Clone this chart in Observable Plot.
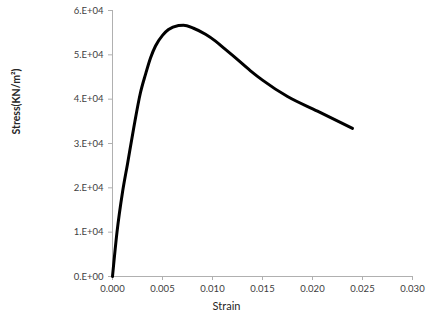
<!DOCTYPE html>
<html>
<head>
<meta charset="utf-8">
<script src="https://cdn.jsdelivr.net/npm/d3@7"></script>
<script src="https://cdn.jsdelivr.net/npm/@observablehq/plot@0.6"></script>
<style>
  html, body { margin: 0; padding: 0; background: #fff; }
  svg { display: block; }
</style>
</head>
<body>
<div id="chart"></div>
<script>
const strain = [0, 0.00045, 0.0010, 0.0015, 0.0021, 0.0028, 0.0033, 0.0038, 0.0043, 0.0050, 0.0056, 0.0066, 0.0071, 0.0081, 0.0093, 0.0103, 0.0112, 0.0121, 0.0138, 0.0150, 0.0175, 0.0205, 0.0240];
const stress = [0, 10000, 19000, 25400, 33200, 41500, 45600, 49300, 52000, 54400, 55700, 56600, 56700, 56000, 54650, 53100, 51400, 49700, 46400, 44300, 40600, 37300, 33400];

const xTicks = [0, 0.005, 0.010, 0.015, 0.020, 0.025, 0.030];
const xTickLabels = ["0.000", "0.005", "0.010", "0.015", "0.020", "0.025", "0.030"];
const yTicks = [0, 10000, 20000, 30000, 40000, 50000, 60000];
const yTickLabels = ["0.E+00", "1.E+04", "2.E+04", "3.E+04", "4.E+04", "5.E+04", "6.E+04"];

const xTitle = "Strain";
const yTitle = "Stress(KN/m²)";

const data = strain.map((s, i) => ({strain: s, stress: stress[i]}));

const axisGrey = "#b0b0b0";
const labelColor = "#404040";

const chart = Plot.plot({
  width: 446,
  height: 329,
  marginLeft: 112,
  marginRight: 34,
  marginTop: 10,
  marginBottom: 53,
  style: {fontFamily: "Lato, 'Open Sans', sans-serif", fontSize: "9.5px", background: "#fff"},
  x: {domain: [0, 0.030]},
  y: {domain: [0, 60000]},
  marks: [
    Plot.ruleX([0], {stroke: axisGrey, strokeWidth: 1}),
    Plot.ruleY([0], {stroke: axisGrey, strokeWidth: 1}),
    Plot.axisX({ticks: xTicks, tickSize: 4, tickFormat: () => "", color: axisGrey, label: null}),
    Plot.axisX({ticks: xTicks, tickSize: 0, tickPadding: 9, tickFormat: (d, i) => xTickLabels[i], color: labelColor, label: null}),
    Plot.axisY({ticks: yTicks, tickSize: 4, tickFormat: () => "", color: axisGrey, label: null}),
    Plot.axisY({ticks: yTicks, tickSize: 0, tickPadding: 9, tickFormat: (d, i) => yTickLabels[i], color: labelColor, label: null}),
    Plot.line(data, {x: "strain", y: "stress", stroke: "#000", strokeWidth: 3, curve: "monotone-x", strokeLinejoin: "round"}),
    Plot.text([xTitle], {frameAnchor: "bottom", dx: -36, dy: 33, fontSize: 11, fill: "#262626"}),
    Plot.text([yTitle], {frameAnchor: "left", dx: -96, dy: -9, rotate: -90, fontSize: 10.5, fontWeight: "bold", fill: "#262626"})
  ]
});
document.getElementById("chart").appendChild(chart);
</script>
</body>
</html>
